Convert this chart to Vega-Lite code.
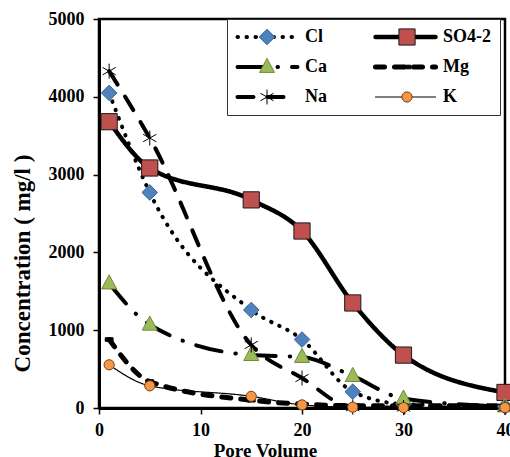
{
  "$schema": "https://vega.github.io/schema/vega-lite/v6.json",
  "width": 406,
  "height": 389,
  "autosize": {"type": "none"},
  "padding": {"left": 99, "top": 19, "right": 5, "bottom": 49},
  "background": "white",
  "data": {
    "values": [
      {"series": "Cl", "pv": 1, "c": 4050},
      {"series": "Cl", "pv": 5, "c": 2770},
      {"series": "Cl", "pv": 15, "c": 1260},
      {"series": "Cl", "pv": 20, "c": 880},
      {"series": "Cl", "pv": 25, "c": 210},
      {"series": "Cl", "pv": 30, "c": 50},
      {"series": "Cl", "pv": 40, "c": 20},
      {"series": "SO4-2", "pv": 1, "c": 3680},
      {"series": "SO4-2", "pv": 5, "c": 3085},
      {"series": "SO4-2", "pv": 15, "c": 2675},
      {"series": "SO4-2", "pv": 20, "c": 2275},
      {"series": "SO4-2", "pv": 25, "c": 1350},
      {"series": "SO4-2", "pv": 30, "c": 680},
      {"series": "SO4-2", "pv": 40, "c": 200},
      {"series": "Ca", "pv": 1, "c": 1600},
      {"series": "Ca", "pv": 5, "c": 1070},
      {"series": "Ca", "pv": 15, "c": 680},
      {"series": "Ca", "pv": 20, "c": 655},
      {"series": "Ca", "pv": 25, "c": 410},
      {"series": "Ca", "pv": 30, "c": 120},
      {"series": "Ca", "pv": 40, "c": 20},
      {"series": "Mg", "pv": 1, "c": 880},
      {"series": "Mg", "pv": 5, "c": 340},
      {"series": "Mg", "pv": 15, "c": 100},
      {"series": "Mg", "pv": 20, "c": 50},
      {"series": "Mg", "pv": 25, "c": 30},
      {"series": "Mg", "pv": 30, "c": 30},
      {"series": "Mg", "pv": 40, "c": 30},
      {"series": "Na", "pv": 1, "c": 4330},
      {"series": "Na", "pv": 5, "c": 3470},
      {"series": "Na", "pv": 15, "c": 810},
      {"series": "Na", "pv": 20, "c": 385},
      {"series": "Na", "pv": 25, "c": 10},
      {"series": "Na", "pv": 30, "c": 5},
      {"series": "Na", "pv": 40, "c": 5},
      {"series": "K", "pv": 1, "c": 555},
      {"series": "K", "pv": 5, "c": 285},
      {"series": "K", "pv": 15, "c": 150},
      {"series": "K", "pv": 20, "c": 40},
      {"series": "K", "pv": 25, "c": 10},
      {"series": "K", "pv": 30, "c": 5},
      {"series": "K", "pv": 40, "c": 5}
    ]
  },
  "encoding": {
    "x": {
      "field": "pv",
      "type": "quantitative",
      "scale": {"domain": [0, 40], "nice": false, "zero": false},
      "axis": {
        "title": "Pore Volume",
        "values": [0, 10, 20, 30, 40],
        "labelFlush": false,
        "titleX": 166,
        "titleY": 33,
        "titleFontSize": 19,
        "labelPadding": 7,
        "tickSize": 6
      }
    },
    "y": {
      "field": "c",
      "type": "quantitative",
      "scale": {"domain": [0, 5000], "nice": false},
      "axis": {
        "title": "Concentration ( mg/l )",
        "values": [0, 1000, 2000, 3000, 4000, 5000],
        "format": "d",
        "titleX": -65,
        "titleY": 244,
        "titleFontSize": 23,
        "labelPadding": 9,
        "tickSize": 6
      }
    }
  },
  "layer": [
    {
      "mark": {"type": "line", "interpolate": "monotone", "stroke": "black", "strokeCap": "round"},
      "encoding": {
        "strokeDash": {
          "field": "series",
          "type": "nominal",
          "scale": {
            "domain": ["Cl", "Ca", "Na", "SO4-2", "Mg", "K"],
            "range": [[0.5, 8.5], [26, 14, 0.5, 14], [16, 14], [1, 0], [9, 10], [1, 0]]
          },
          "legend": {
            "orient": "none", "legendX": 128, "legendY": 0, "columns": 2, "title": null,
            "symbolType": "stroke", "symbolSize": 3600, "symbolStrokeColor": "black",
            "labelOffset": 5, "columnPadding": 46, "rowPadding": 10, "clipHeight": 20, "padding": 8,
            "strokeColor": "#333333", "fillColor": "white",
            "labelFont": "Liberation Serif", "labelFontSize": 18, "labelFontWeight": "bold", "labelColor": "black",
            "encode": {"symbols": {"update": {"strokeCap": {"value": "round"}}}}
          }
        },
        "strokeWidth": {
          "field": "series",
          "type": "nominal",
          "scale": {"type": "ordinal", "domain": ["Cl", "Ca", "Na", "SO4-2", "Mg", "K"], "range": [4, 4, 4, 4.5, 5, 1.2]},
          "legend": {
            "orient": "none", "legendX": 128, "legendY": 0, "columns": 2, "title": null,
            "symbolType": "stroke", "symbolSize": 3600, "symbolStrokeColor": "black",
            "labelOffset": 5, "columnPadding": 46, "rowPadding": 10, "clipHeight": 20, "padding": 8,
            "strokeColor": "#333333", "fillColor": "white",
            "labelFont": "Liberation Serif", "labelFontSize": 18, "labelFontWeight": "bold", "labelColor": "black",
            "encode": {"symbols": {"update": {"strokeCap": {"value": "round"}}}}
          }
        }
      }
    },
    {
      "mark": {"type": "point", "filled": true, "opacity": 1, "size": 3600, "strokeWidth": 1},
      "encoding": {
        "shape": {
          "field": "series",
          "type": "nominal",
          "scale": {
            "domain": ["Cl", "Ca", "Na", "SO4-2", "Mg", "K"],
            "range": [
              "M0,-0.26L0.26,0L0,0.26L-0.26,0Z",
              "M0,-0.29L0.25,0.18H-0.25Z",
              "M0,-0.25V0.25M-0.22,-0.125L0.22,0.125M-0.22,0.125L0.22,-0.125",
              "M-0.27,-0.27H0.27V0.27H-0.27Z",
              "M-0.13,-0.06H0.13V0.06H-0.13Z",
              "M-0.17,0A0.17,0.17,0,1,0,0.17,0A0.17,0.17,0,1,0,-0.17,0Z"
            ]
          },
          "legend": {
            "orient": "none", "legendX": 128, "legendY": 0, "columns": 2, "title": null,
            "symbolSize": 3600, "symbolStrokeWidth": 1, "symbolOffset": 1.5,
            "labelOffset": 9, "columnPadding": 68, "rowPadding": 10, "clipHeight": 20, "padding": 8,
            "labelFont": "Liberation Serif", "labelFontSize": 18, "labelFontWeight": "bold", "labelExpr": "''"
          }
        },
        "fill": {
          "field": "series",
          "type": "nominal",
          "scale": {
            "domain": ["Cl", "Ca", "Na", "SO4-2", "Mg", "K"],
            "range": ["#4f81bd", "#9bbb59", "#ffffff", "#c0504d", "#000000", "#f79646"]
          },
          "legend": {
            "orient": "none", "legendX": 128, "legendY": 0, "columns": 2, "title": null,
            "symbolSize": 3600, "symbolStrokeWidth": 1, "symbolOffset": 1.5,
            "labelOffset": 9, "columnPadding": 68, "rowPadding": 10, "clipHeight": 20, "padding": 8,
            "labelFont": "Liberation Serif", "labelFontSize": 18, "labelFontWeight": "bold", "labelExpr": "''"
          }
        },
        "stroke": {
          "field": "series",
          "type": "nominal",
          "scale": {
            "domain": ["Cl", "Ca", "Na", "SO4-2", "Mg", "K"],
            "range": ["#3c6496", "#71893f", "#000000", "#1a1a1a", "#000000", "#7a3f12"]
          },
          "legend": {
            "orient": "none", "legendX": 128, "legendY": 0, "columns": 2, "title": null,
            "symbolSize": 3600, "symbolStrokeWidth": 1, "symbolOffset": 1.5,
            "labelOffset": 9, "columnPadding": 68, "rowPadding": 10, "clipHeight": 20, "padding": 8,
            "labelFont": "Liberation Serif", "labelFontSize": 18, "labelFontWeight": "bold", "labelExpr": "''"
          }
        }
      }
    }
  ],
  "resolve": {
    "legend": {
      "shape": "independent",
      "fill": "independent",
      "stroke": "independent",
      "strokeDash": "independent",
      "strokeWidth": "independent"
    }
  },
  "config": {
    "view": {"stroke": "black", "strokeWidth": 2.5},
    "axis": {
      "domainColor": "black",
      "domainWidth": 3,
      "tickColor": "black",
      "tickWidth": 1.5,
      "grid": false,
      "labelFont": "Liberation Serif",
      "labelFontSize": 18,
      "labelFontWeight": "bold",
      "labelColor": "black",
      "titleFont": "Liberation Serif",
      "titleFontWeight": "bold",
      "titleColor": "black"
    }
  }
}
